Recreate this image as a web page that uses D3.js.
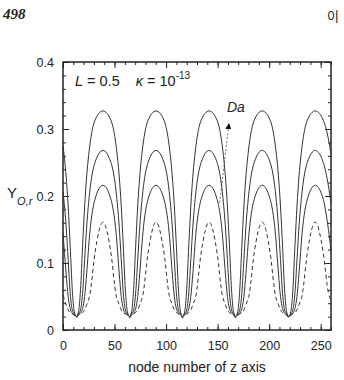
<!DOCTYPE html>
<html lang="en">
<head>
    <meta charset="UTF-8">
    <title>Y_O,r along z</title>
    <script src="https://d3js.org/d3.v7.min.js" charset="utf-8"></script>
    <style>
        body { margin: 0; background: #fff; }
        text { font-family: Arial, "Liberation Sans", sans-serif; fill: #222; }
    </style>
</head>
<body>
<script>
    // node positions (shared by all four curves)
    var nodes = [0, 3, 5, 7, 9, 11, 13,
        15, 17, 19, 21, 23, 26, 31, 38.75, 46.5, 51.5, 54.5, 56.5, 58.5, 60.5, 62.5, 64.5,
        66.5, 68.5, 70.5, 72.5, 74.5, 77.5, 82.5, 90.25, 98, 103, 106, 108, 110, 112, 114, 116,
        118, 120, 122, 124, 126, 129, 134, 141.75, 149.5, 154.5, 157.5, 159.5, 161.5, 163.5, 165.5, 167.5,
        169.5, 171.5, 173.5, 175.5, 177.5, 180.5, 185.5, 193.25, 201, 206, 209, 211, 213, 215, 217, 219,
        221, 223, 225, 227, 229, 232, 237, 244.75, 252.5, 257.5, 260];

    // highest solid curve
    var yA = [0.275, 0.230, 0.185, 0.125, 0.060, 0.027, 0.020,
        0.027, 0.060, 0.125, 0.185, 0.230, 0.275, 0.313, 0.327, 0.313, 0.275, 0.230, 0.185, 0.125, 0.060, 0.027, 0.020,
        0.027, 0.060, 0.125, 0.185, 0.230, 0.275, 0.313, 0.327, 0.313, 0.275, 0.230, 0.185, 0.125, 0.060, 0.027, 0.020,
        0.027, 0.060, 0.125, 0.185, 0.230, 0.275, 0.313, 0.327, 0.313, 0.275, 0.230, 0.185, 0.125, 0.060, 0.027, 0.020,
        0.027, 0.060, 0.125, 0.185, 0.230, 0.275, 0.313, 0.327, 0.313, 0.275, 0.230, 0.185, 0.125, 0.060, 0.027, 0.020,
        0.027, 0.060, 0.125, 0.185, 0.230, 0.275, 0.313, 0.327, 0.313, 0.285, 0.262];
    var yB = [0.207, 0.155, 0.105, 0.055, 0.030, 0.024, 0.020,
        0.024, 0.030, 0.055, 0.105, 0.155, 0.207, 0.250, 0.268, 0.250, 0.207, 0.155, 0.105, 0.055, 0.030, 0.024, 0.020,
        0.024, 0.030, 0.055, 0.105, 0.155, 0.207, 0.250, 0.268, 0.250, 0.207, 0.155, 0.105, 0.055, 0.030, 0.024, 0.020,
        0.024, 0.030, 0.055, 0.105, 0.155, 0.207, 0.250, 0.268, 0.250, 0.207, 0.155, 0.105, 0.055, 0.030, 0.024, 0.020,
        0.024, 0.030, 0.055, 0.105, 0.155, 0.207, 0.250, 0.268, 0.250, 0.207, 0.155, 0.105, 0.055, 0.030, 0.024, 0.020,
        0.024, 0.030, 0.055, 0.105, 0.155, 0.207, 0.250, 0.268, 0.250, 0.215, 0.190];
    var yC = [0.145, 0.085, 0.050, 0.032, 0.025, 0.023, 0.020,
        0.023, 0.025, 0.032, 0.050, 0.085, 0.145, 0.195, 0.216, 0.195, 0.145, 0.085, 0.050, 0.032, 0.025, 0.023, 0.020,
        0.023, 0.025, 0.032, 0.050, 0.085, 0.145, 0.195, 0.216, 0.195, 0.145, 0.085, 0.050, 0.032, 0.025, 0.023, 0.020,
        0.023, 0.025, 0.032, 0.050, 0.085, 0.145, 0.195, 0.216, 0.195, 0.145, 0.085, 0.050, 0.032, 0.025, 0.023, 0.020,
        0.023, 0.025, 0.032, 0.050, 0.085, 0.145, 0.195, 0.216, 0.195, 0.145, 0.085, 0.050, 0.032, 0.025, 0.023, 0.020,
        0.023, 0.025, 0.032, 0.050, 0.085, 0.145, 0.195, 0.216, 0.195, 0.150, 0.120];
    // dashed curve (lowest)
    var yD = [0.052, 0.038, 0.030, 0.026, 0.024, 0.022, 0.018,
        0.022, 0.024, 0.026, 0.030, 0.038, 0.052, 0.115, 0.161, 0.115, 0.052, 0.038, 0.030, 0.026, 0.024, 0.022, 0.018,
        0.022, 0.024, 0.026, 0.030, 0.038, 0.052, 0.115, 0.161, 0.115, 0.052, 0.038, 0.030, 0.026, 0.024, 0.022, 0.018,
        0.022, 0.024, 0.026, 0.030, 0.038, 0.052, 0.115, 0.161, 0.115, 0.052, 0.038, 0.030, 0.026, 0.024, 0.022, 0.018,
        0.022, 0.024, 0.026, 0.030, 0.038, 0.052, 0.115, 0.161, 0.115, 0.052, 0.038, 0.030, 0.026, 0.024, 0.022, 0.018,
        0.022, 0.024, 0.026, 0.030, 0.038, 0.052, 0.115, 0.161, 0.115, 0.055, 0.045];

    var xTicks = [0, 50, 100, 150, 200, 250];
    var yTicks = [0, 0.1, 0.2, 0.3, 0.4];
    var daArrow = [[152, 0.190], [161, 0.308]];

    var margin = {top: 62, right: 13, bottom: 50, left: 63},
        width = 344 - margin.left - margin.right,
        height = 380 - margin.top - margin.bottom;

    var x = d3.scaleLinear().domain([0, 260]).range([0, width]);
    var y = d3.scaleLinear().domain([0, 0.4]).range([height, 0]);

    var root = d3.select("body").append("svg")
        .attr("width", 344)
        .attr("height", 380);

    // page header
    root.append("text")
        .attr("x", 3).attr("y", 19)
        .style("font-family", "'Liberation Serif', 'DejaVu Serif', serif")
        .style("font-weight", "bold").style("font-style", "italic")
        .style("font-size", "15px")
        .text("498");
    root.append("text")
        .attr("x", 327).attr("y", 21)
        .style("font-family", "'Noto Sans CJK KR', sans-serif")
        .style("font-size", "13px")
        .text("이");

    var svg = root.append("g")
        .attr("transform", "translate(" + margin.left + "," + margin.top + ")");

    var minorX = d3.range(0, 261, 10);
    var minorY = d3.range(0, 0.401, 0.02);

    function styleAxis(g) {
        g.select(".domain").remove();
        g.selectAll("line").attr("stroke", "#222");
        g.selectAll("text").style("font-size", "12.5px").attr("fill", "#222");
    }

    // bottom
    svg.append("g").attr("transform", "translate(0," + height + ")")
        .call(d3.axisBottom(x).tickValues(minorX).tickSize(-3).tickFormat("")).call(styleAxis);
    svg.append("g").attr("transform", "translate(0," + height + ")")
        .call(d3.axisBottom(x).tickValues(xTicks).tickSize(-6).tickPadding(11)
            .tickFormat(d3.format("d"))).call(styleAxis);
    // top
    svg.append("g")
        .call(d3.axisTop(x).tickValues(minorX).tickSize(-3).tickFormat("")).call(styleAxis);
    svg.append("g")
        .call(d3.axisTop(x).tickValues(xTicks).tickSize(-6).tickFormat("")).call(styleAxis);
    // left
    svg.append("g")
        .call(d3.axisLeft(y).tickValues(minorY).tickSize(-3).tickFormat("")).call(styleAxis);
    svg.append("g")
        .call(d3.axisLeft(y).tickValues(yTicks).tickSize(-6).tickPadding(9)
            .tickFormat(function(d) { return d === 0 ? "0" : d.toFixed(1); })).call(styleAxis);
    // right
    svg.append("g").attr("transform", "translate(" + width + ",0)")
        .call(d3.axisRight(y).tickValues(minorY).tickSize(-3).tickFormat("")).call(styleAxis);
    svg.append("g").attr("transform", "translate(" + width + ",0)")
        .call(d3.axisRight(y).tickValues(yTicks).tickSize(-6).tickFormat("")).call(styleAxis);

    // frame
    svg.append("rect")
        .attr("width", width).attr("height", height)
        .attr("fill", "none").attr("stroke", "#222").attr("stroke-width", 1.5);

    var line = d3.line()
        .x(function(d) { return x(d[0]); })
        .y(function(d) { return y(d[1]); })
        .curve(d3.curveMonotoneX);

    [yA, yB, yC, yD].forEach(function(vals, i) {
        svg.append("path")
            .datum(nodes.map(function(n, j) { return [n, vals[j]]; }))
            .attr("fill", "none")
            .attr("stroke", "#333")
            .attr("stroke-width", 1)
            .attr("stroke-dasharray", i === 3 ? "4,3" : null)
            .attr("d", line);
    });

    // Da arrow
    svg.append("defs").append("marker")
        .attr("id", "head").attr("viewBox", "0 0 10 10")
        .attr("refX", 9).attr("refY", 5)
        .attr("markerWidth", 6).attr("markerHeight", 7)
        .attr("markerUnits", "userSpaceOnUse")
        .attr("orient", "auto")
        .append("path").attr("d", "M0,0L10,5L0,10z").attr("fill", "#111");
    svg.append("line")
        .attr("x1", x(daArrow[0][0])).attr("y1", y(daArrow[0][1]))
        .attr("x2", x(daArrow[1][0])).attr("y2", y(daArrow[1][1]))
        .attr("stroke", "#444").attr("stroke-width", 0.8)
        .attr("stroke-dasharray", "2,2")
        .attr("marker-end", "url(#head)");
    svg.append("text")
        .attr("x", 227 - margin.left).attr("y", 112 - margin.top)
        .style("font-size", "14px").style("font-style", "italic")
        .text("Da");

    // parameter label
    var par = svg.append("text")
        .attr("x", 75 - margin.left).attr("y", 86 - margin.top)
        .style("font-size", "14.5px");
    par.append("tspan").style("font-style", "italic").text("L");
    par.append("tspan").text(" = 0.5");
    par.append("tspan").attr("dx", 16).style("font-style", "italic").text("κ");
    par.append("tspan").text(" = 10");
    par.append("tspan").attr("dy", -7).style("font-size", "10px").text("-13");

    // x axis title
    root.append("text")
        .attr("x", 197).attr("y", 372)
        .style("text-anchor", "middle")
        .style("font-size", "14px")
        .text("node number of z axis");

    // y axis title
    var yl = root.append("text")
        .attr("x", 7).attr("y", 198)
        .style("font-size", "15px");
    yl.append("tspan").text("Y");
    yl.append("tspan").attr("dy", 7).style("font-size", "11px").style("font-style", "italic").text("O,r");
</script>
</body>
</html>
